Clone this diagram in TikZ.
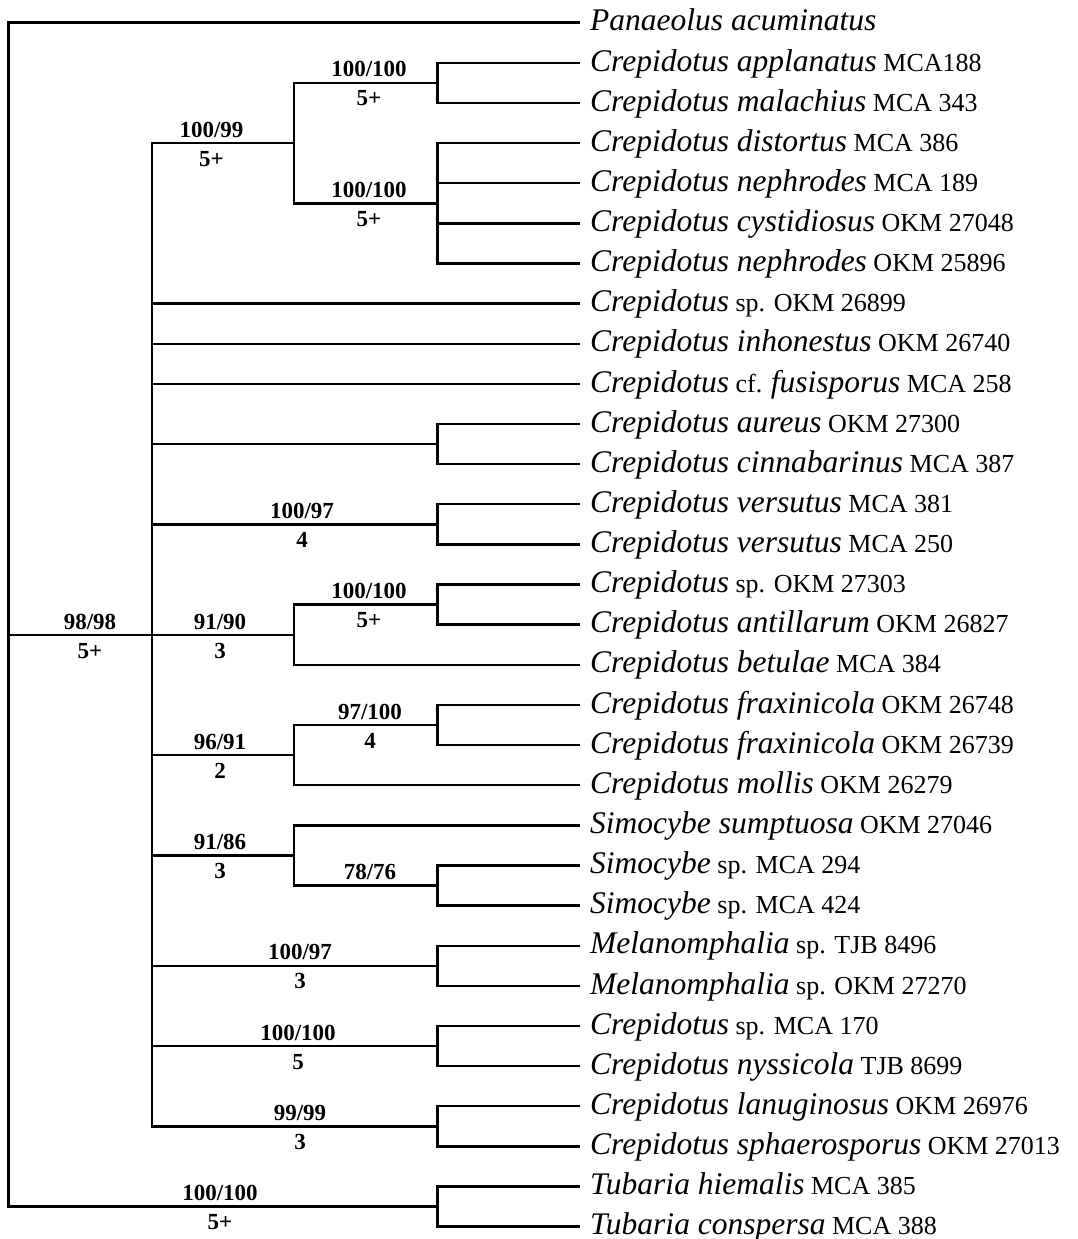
\documentclass[tikz,border=0pt]{standalone}
\usepackage{fontspec}
\setmainfont{Liberation Serif}
\newcommand{\genus}[1]{{\fontsize{31.5}{31.5}\selectfont\itshape #1}}
\begin{document}
\begin{tikzpicture}[x=1pt,y=-1pt,
  br/.style={line width=2.4pt, line join=miter},
  leaf/.style={anchor=base west, inner sep=0pt, font=\fontsize{26}{26}\selectfont},
  sup/.style={anchor=base, inner sep=0pt, font=\fontsize{23}{23}\selectfont\bfseries}]
\useasboundingbox (0,0) rectangle (1077,1239);
% leaf tips
\foreach \i in {0,...,30} \coordinate (t\i) at (580,{22.7+40.13*\i});
% leaf labels
\foreach \i/\txt in {
 0/{\genus{Panaeolus acuminatus}},
 1/{\genus{Crepidotus applanatus} MCA188},
 2/{\genus{Crepidotus malachius} MCA 343},
 3/{\genus{Crepidotus distortus} MCA 386},
 4/{\genus{Crepidotus nephrodes} MCA 189},
 5/{\genus{Crepidotus cystidiosus} OKM 27048},
 6/{\genus{Crepidotus nephrodes} OKM 25896},
 7/{\genus{Crepidotus} sp. OKM 26899},
 8/{\genus{Crepidotus inhonestus} OKM 26740},
 9/{\genus{Crepidotus} cf. \genus{fusisporus} MCA 258},
 10/{\genus{Crepidotus aureus} OKM 27300},
 11/{\genus{Crepidotus cinnabarinus} MCA 387},
 12/{\genus{Crepidotus versutus} MCA 381},
 13/{\genus{Crepidotus versutus} MCA 250},
 14/{\genus{Crepidotus} sp. OKM 27303},
 15/{\genus{Crepidotus antillarum} OKM 26827},
 16/{\genus{Crepidotus betulae} MCA 384},
 17/{\genus{Crepidotus fraxinicola} OKM 26748},
 18/{\genus{Crepidotus fraxinicola} OKM 26739},
 19/{\genus{Crepidotus mollis} OKM 26279},
 20/{\genus{Simocybe sumptuosa} OKM 27046},
 21/{\genus{Simocybe} sp. MCA 294},
 22/{\genus{Simocybe} sp. MCA 424},
 23/{\genus{Melanomphalia} sp. TJB 8496},
 24/{\genus{Melanomphalia} sp. OKM 27270},
 25/{\genus{Crepidotus} sp. MCA 170},
 26/{\genus{Crepidotus nyssicola} TJB 8699},
 27/{\genus{Crepidotus lanuginosus} OKM 26976},
 28/{\genus{Crepidotus sphaerosporus} OKM 27013},
 29/{\genus{Tubaria hiemalis} MCA 385},
 30/{\genus{Tubaria conspersa} MCA 388}}
 \node[leaf] (l\i) at ([shift={(10,8.2)}]t\i) {\txt};
% internal nodes
\coordinate (root) at (8.5,635);
\coordinate (ing) at (152,635);
\coordinate (a) at (294,143.1);
\coordinate (a1) at (437.5,82.9);
\coordinate (a2) at (437.5,203.3);
\coordinate (au) at (437.5,444.1);
\coordinate (ve) at (437.5,524.3);
\coordinate (b) at (294,635);
\coordinate (b1) at (437.5,604.6);
\coordinate (c) at (294,755.1);
\coordinate (c1) at (437.5,725);
\coordinate (d) at (294,855.4);
\coordinate (d1) at (437.5,885.5);
\coordinate (me) at (437.5,965.8);
\coordinate (cs) at (437.5,1046);
\coordinate (la) at (437.5,1126.3);
\coordinate (tu) at (437.5,1206.5);
% branches
\draw[br] (root) |- (t0);
\draw[br] (root) |- (tu);
\draw[br] (root) -- (ing);
\foreach \n in {a,t7,t8,t9,au,ve,b,c,d,me,cs,la} \draw[br] (ing) |- (\n);
\draw[br] (a) |- (a1); \draw[br] (a) |- (a2);
\draw[br] (a1) |- (t1); \draw[br] (a1) |- (t2);
\foreach \n in {3,4,5,6} \draw[br] (a2) |- (t\n);
\draw[br] (au) |- (t10); \draw[br] (au) |- (t11);
\draw[br] (ve) |- (t12); \draw[br] (ve) |- (t13);
\draw[br] (b) |- (b1); \draw[br] (b) |- (t16);
\draw[br] (b1) |- (t14); \draw[br] (b1) |- (t15);
\draw[br] (c) |- (c1); \draw[br] (c) |- (t19);
\draw[br] (c1) |- (t17); \draw[br] (c1) |- (t18);
\draw[br] (d) |- (t20); \draw[br] (d) |- (d1);
\draw[br] (d1) |- (t21); \draw[br] (d1) |- (t22);
\draw[br] (me) |- (t23); \draw[br] (me) |- (t24);
\draw[br] (cs) |- (t25); \draw[br] (cs) |- (t26);
\draw[br] (la) |- (t27); \draw[br] (la) |- (t28);
\draw[br] (tu) |- (t29); \draw[br] (tu) |- (t30);
% support labels
\node[sup] (sa1u) at (369,76.9) {100/100};
\node[sup] (sa1d) at (369,105.9) {5+};
\node[sup] (sau) at (211.5,137.1) {100/99};
\node[sup] (sad) at (211.5,166.1) {5+};
\node[sup] (sa2u) at (369,197.3) {100/100};
\node[sup] (sa2d) at (369,226.3) {5+};
\node[sup] (sveu) at (302,518.3) {100/97};
\node[sup] (sved) at (302,547.3) {4};
\node[sup] (sru) at (90,629) {98/98};
\node[sup] (srd) at (90,658) {5+};
\node[sup] (sbu) at (220,629) {91/90};
\node[sup] (sbd) at (220,658) {3};
\node[sup] (sb1u) at (369,598.6) {100/100};
\node[sup] (sb1d) at (369,627.6) {5+};
\node[sup] (scu) at (220,749.1) {96/91};
\node[sup] (scd) at (220,778.1) {2};
\node[sup] (sc1u) at (370,719) {97/100};
\node[sup] (sc1d) at (370,748) {4};
\node[sup] (sdu) at (220,849.4) {91/86};
\node[sup] (sdd) at (220,878.4) {3};
\node[sup] (sd1u) at (370,879.5) {78/76};
\node[sup] (smeu) at (300,959.8) {100/97};
\node[sup] (smed) at (300,988.8) {3};
\node[sup] (scsu) at (298,1040) {100/100};
\node[sup] (scsd) at (298,1069) {5};
\node[sup] (slau) at (300,1120.3) {99/99};
\node[sup] (slad) at (300,1149.3) {3};
\node[sup] (stuu) at (220,1200.5) {100/100};
\node[sup] (stud) at (220,1229.5) {5+};
\end{tikzpicture}
\end{document}
